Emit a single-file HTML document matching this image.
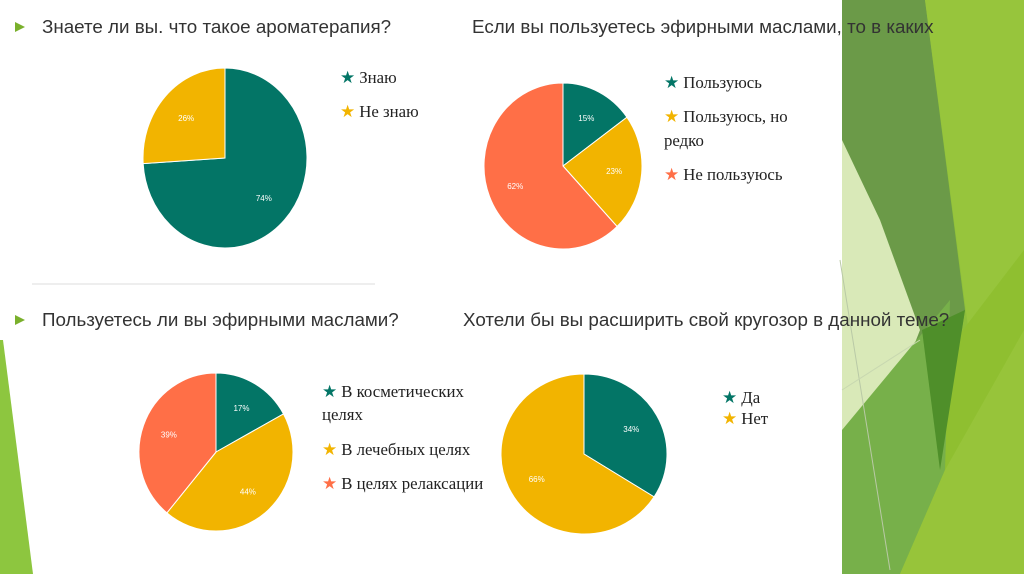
<!DOCTYPE html>
<html><head><meta charset="utf-8"><style>
body{margin:0;width:1024px;height:574px;overflow:hidden;background:#fff;position:relative;font-family:"Liberation Sans",sans-serif}
svg{position:absolute;left:0;top:0}
</style></head><body>
<svg width="1024" height="574">
<g>
<rect x="842" y="0" width="182" height="574" fill="#8dbf3a"/>
<polygon points="842,0 925,0 965,310 940,470 842,300" fill="#6b9a48"/>
<polygon points="925,0 1024,0 1024,574 960,574 975,380" fill="#97c53c"/>
<polygon points="940,360 1024,250 1024,574 920,574" fill="#8fbf30"/>
<polygon points="842,140 880,220 920,330 885,420 842,430" fill="#d9e9b8"/>
<polygon points="842,430 950,300 945,470 900,574 842,574" fill="#77b04a"/>
<polygon points="900,574 945,470 1024,330 1024,574" fill="#97c43a"/>
<polygon points="922,330 965,310 940,470" fill="#4f8f2a"/>
<line x1="840" y1="260" x2="890" y2="570" stroke="#b9c9a6" stroke-width="1"/>
<line x1="842" y1="390" x2="920" y2="340" stroke="#c8d8b0" stroke-width="1"/>
<polygon points="0,340 3,340 33,574 0,574" fill="#8dc63f"/>
<line x1="32" y1="284" x2="375" y2="284" stroke="#eee" stroke-width="2"/>
</g>
<g font-size="18.8" fill="#333">
<polygon points="15,22 15,32 25,27" fill="#7ab02c"/>
<text x="42" y="33">Знаете ли вы. что такое ароматерапия?</text>
<text x="472" y="33">Если вы пользуетесь эфирными маслами, то в каких</text>
<polygon points="15,315 15,325 25,320" fill="#7ab02c"/>
<text x="42" y="326">Пользуетесь ли вы эфирными маслами?</text>
<text x="463" y="326">Хотели бы вы расширить свой кругозор в данной теме?</text>
</g>
<g font-family="Liberation Serif,serif" font-size="16.8" fill="#222">
<text x="340" y="83"><tspan fill="#037566">★</tspan> Знаю</text>
<text x="340" y="117"><tspan fill="#f2b400">★</tspan> Не знаю</text>
<text x="664" y="88"><tspan fill="#037566">★</tspan> Пользуюсь</text>
<text x="664" y="122"><tspan fill="#f2b400">★</tspan> Пользуюсь, но</text>
<text x="664" y="146">редко</text>
<text x="664" y="180"><tspan fill="#ff6f47">★</tspan> Не пользуюсь</text>
<text x="322" y="397"><tspan fill="#037566">★</tspan> В косметических</text>
<text x="322" y="420">целях</text>
<text x="322" y="455"><tspan fill="#f2b400">★</tspan> В лечебных целях</text>
<text x="322" y="489"><tspan fill="#ff6f47">★</tspan> В целях релаксации</text>
<text x="722" y="403"><tspan fill="#037566">★</tspan> Да</text>
<text x="722" y="424"><tspan fill="#f2b400">★</tspan> Нет</text>
</g>
<g id="pies"></g>
</svg>
<script>
const colors=["#037566","#f2b400","#ff6f47"];
const pie1Values=[74,26];
const pie2Values=[15,23,62];
const pie3Values=[17,44,39];
const pie4Values=[34,66];
const pies=[
 {v:pie1Values,cx:225,cy:158,rx:82,ry:90,name:'pie-aromatherapy'},
 {v:pie2Values,cx:563,cy:166,rx:79,ry:83,name:'pie-oils-usage'},
 {v:pie3Values,cx:216,cy:452,rx:77,ry:79,name:'pie-use-oils'},
 {v:pie4Values,cx:584,cy:454,rx:83,ry:80,name:'pie-expand'}];
const ns="http://www.w3.org/2000/svg";
const root=document.getElementById('pies');
pies.forEach(p=>{
 const g=document.createElementNS(ns,'g');
 
 
 root.appendChild(g);
 const tot=p.v.reduce((a,b)=>a+b,0);
 let a0=0;
 p.v.forEach((val,i)=>{
  const a1=a0+val/tot*2*Math.PI;
  const pt=a=>[p.cx+p.rx*Math.sin(a),p.cy-p.ry*Math.cos(a)];
  const [x0,y0]=pt(a0),[x1,y1]=pt(a1);
  const path=document.createElementNS(ns,'path');
  path.setAttribute('d',`M${p.cx},${p.cy}L${x0},${y0}A${p.rx},${p.ry} 0 ${a1-a0>Math.PI?1:0} 1 ${x1},${y1}Z`);
  path.setAttribute('fill',colors[i]);
  path.setAttribute('stroke','#fff');
  path.setAttribute('stroke-width','1');
  
  
  g.appendChild(path);
  const am=(a0+a1)/2;
  const t=document.createElementNS(ns,'text');
  t.setAttribute('x',p.cx+p.rx*0.65*Math.sin(am));
  t.setAttribute('y',p.cy-p.ry*0.65*Math.cos(am)+3);
  t.setAttribute('fill','#fff');
  t.setAttribute('font-size','8');
  t.setAttribute('text-anchor','middle');
  t.textContent=val+'%';
  
  
  g.appendChild(t);
  a0=a1;
 });
});
</script>
</body></html>
